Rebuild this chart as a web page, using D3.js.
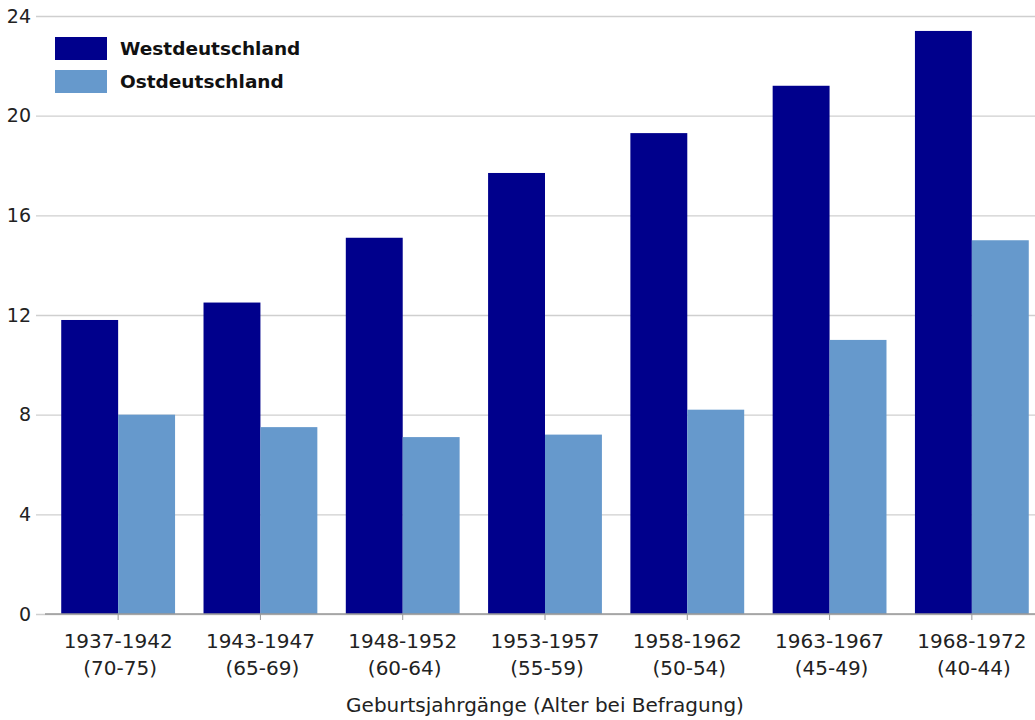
<!DOCTYPE html>
<html>
<head>
<meta charset="utf-8">
<script src="https://cdn.jsdelivr.net/npm/d3@7"></script>
<style>
  html, body { margin: 0; padding: 0; background: #fff; }
  svg { display: block; font-family: "DejaVu Sans", Verdana, sans-serif; }
</style>
</head>
<body>
<svg id="chart" width="1035" height="720"></svg>
<script>
// Birth cohorts with age at survey
const cohorts = ["1937-1942", "1943-1947", "1948-1952", "1953-1957", "1958-1962", "1963-1967", "1968-1972"];
const ages = ["(70-75)", "(65-69)", "(60-64)", "(55-59)", "(50-54)", "(45-49)", "(40-44)"];
const seriesNames = ["Westdeutschland", "Ostdeutschland"];
const westValues = [11.8, 12.5, 15.1, 17.7, 19.3, 21.2, 23.4];
const eastValues = [8.0, 7.5, 7.1, 7.2, 8.2, 11.0, 15.0];
const yTicks = [0, 4, 8, 12, 16, 20, 24];
const xTitle = "Geburtsjahrgänge (Alter bei Befragung)";

const colors = ["#00008c", "#6699cc"];

const svg = d3.select("#chart");
const plotLeft = 45, plotRight = 1035;

const y = d3.scaleLinear().domain([0, 24]).range([614, 16]);
const x0 = d3.scaleBand().domain(cohorts).range([47, 1043]).paddingInner(0.2).paddingOuter(0.1);
const x1 = d3.scaleBand().domain(seriesNames).range([0, x0.bandwidth()]);

// Horizontal gridlines and y labels
const yAxis = d3.axisLeft(y).tickValues(yTicks).tickSize(-(plotRight - 36)).tickPadding(5);
const gy = svg.append("g").attr("transform", `translate(36,0)`).call(yAxis);
gy.select(".domain").remove();
gy.selectAll(".tick line").attr("stroke", "#cfcfcf").attr("stroke-width", 1.3);
gy.selectAll(".tick text")
  .attr("fill", "#222").attr("font-size", 19)
  .attr("font-family", "DejaVu Sans, Verdana, sans-serif");

// Bars
const data = cohorts.map((c, i) => ({ cohort: c, values: [westValues[i], eastValues[i]] }));
const groups = svg.append("g").selectAll("g").data(data).join("g")
  .attr("transform", d => `translate(${x0(d.cohort)},0)`);
groups.selectAll("rect")
  .data(d => d.values.map((v, j) => ({ key: seriesNames[j], value: v, j })))
  .join("rect")
  .attr("x", d => x1(d.key))
  .attr("width", x1.bandwidth())
  .attr("y", d => y(d.value))
  .attr("height", d => y(0) - y(d.value))
  .attr("fill", d => colors[d.j]);

// x axis baseline and ticks
const xAxis = d3.axisBottom(x0).tickSize(6).tickFormat("");
const gx = svg.append("g").attr("transform", `translate(0,${y(0)})`).call(xAxis);
gx.select(".domain").remove();
gx.selectAll(".tick line").attr("stroke", "#999");
svg.append("line")
  .attr("x1", plotLeft).attr("x2", plotRight)
  .attr("y1", y(0)).attr("y2", y(0))
  .attr("stroke", "#999").attr("stroke-width", 1.3);

// Two-line category labels
const labels = svg.append("g").selectAll("text").data(cohorts).join("text")
  .attr("x", d => x0(d) + x0.bandwidth() / 2)
  .attr("y", 648)
  .attr("text-anchor", "middle")
  .attr("font-size", 20)
  .attr("fill", "#222");
labels.append("tspan").attr("x", d => x0(d) + x0.bandwidth() / 2).text(d => d);
labels.append("tspan").attr("x", d => x0(d) + x0.bandwidth() / 2 + 2).attr("dy", 27)
  .text((d, i) => ages[i]);

// Axis title
svg.append("text")
  .attr("x", 545).attr("y", 712)
  .attr("text-anchor", "middle")
  .attr("font-size", 20)
  .attr("fill", "#222")
  .text(xTitle);

// Legend
const legend = svg.append("g").attr("transform", "translate(55,37)");
seriesNames.forEach((name, i) => {
  const row = legend.append("g").attr("transform", `translate(0,${i * 33})`);
  row.append("rect").attr("width", 52).attr("height", 23).attr("fill", colors[i]);
  row.append("text").attr("x", 65).attr("y", 18)
    .attr("font-size", 18.5).attr("font-weight", "bold").attr("fill", "#111")
    .text(name);
});
</script>
</body>
</html>
